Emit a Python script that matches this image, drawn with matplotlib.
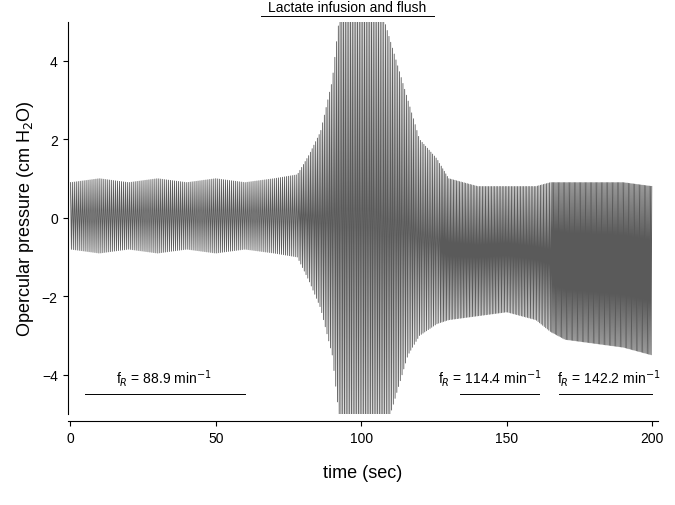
import numpy as np
import matplotlib.pyplot as plt

plt.rcParams['font.family'] = ['Liberation Sans', 'DejaVu Sans']

# envelope of the opercular pressure trace (sec, cm H2O)
env_t  = [0, 10, 20, 30, 40, 50, 60, 70, 78, 82, 86, 90, 93, 96, 100, 104, 108, 112, 116, 120, 126, 130, 140, 150, 160, 165, 170, 180, 190, 200]
env_hi = [0.9, 1.0, 0.9, 1.0, 0.9, 1.0, 0.9, 1.0, 1.1, 1.6, 2.2, 3.5, 5.5, 5.5, 5.5, 5.5, 5.0, 4.0, 3.0, 2.0, 1.5, 1.0, 0.8, 0.8, 0.8, 0.9, 0.9, 0.9, 0.9, 0.8]
env_lo = [-0.8, -0.9, -0.8, -0.9, -0.8, -0.9, -0.8, -0.9, -1.0, -1.6, -2.3, -3.5, -5.5, -5.5, -5.5, -5.5, -5.5, -4.5, -3.5, -3.0, -2.7, -2.6, -2.5, -2.4, -2.6, -2.9, -3.1, -3.2, -3.3, -3.5]
# breathing rate per section (breaths per minute)
rate_t = [0, 78, 127, 165, 200]
rate_f = [88.9, 100.0, 114.4, 142.2]

# (line start, line end, text centre, value)
fR_labels = [(5, 60, 32, "88.9"), (134, 161, 144, "114.4"), (168, 200, 185, "142.2")]

# build trace: alternate peaks and troughs at the section's rate
times, vals = [], []
t, k = 0.0, 0
while t <= 200:
    seg = min(np.searchsorted(rate_t, t, side="right") - 1, len(rate_f) - 1)
    times.append(t)
    vals.append(np.interp(t, env_t, env_hi if k % 2 == 0 else env_lo))
    t += 60.0 / rate_f[seg] / 2
    k += 1

fig, ax = plt.subplots(figsize=(6.75, 5.06), dpi=100)
fig.subplots_adjust(left=0.10, right=0.975, top=0.955, bottom=0.18)
ax.plot(times, vals, color="#5a5a5a", lw=0.6)

ax.set_xlim(-1, 202)
ax.set_ylim(-5, 5)
ax.set_xticks([0, 50, 100, 150, 200])
ax.set_yticks([-4, -2, 0, 2, 4])
for s in ["top", "right"]:
    ax.spines[s].set_visible(False)
ax.spines["bottom"].set_position(("outward", 5))
ax.tick_params(labelsize=10)
ax.set_xlabel("time (sec)", fontsize=13, labelpad=14)
ax.set_ylabel("Opercular pressure (cm H$_2$O)", fontsize=13)

ax.plot([65.5, 125], [5.15, 5.15], color="k", lw=0.7, clip_on=False)
ax.text(95, 5.2, "Lactate infusion and flush", ha="center", va="bottom", fontsize=10)

for x0, x1, xc, lab in fR_labels:
    ax.plot([x0, x1], [-4.5, -4.5], color="k", lw=0.7)
    ax.text(xc, -4.35, "f$_R$ = " + lab + " min$^{-1}$", ha="center", va="bottom", fontsize=10)

fig.savefig("out.png", dpi=100)
